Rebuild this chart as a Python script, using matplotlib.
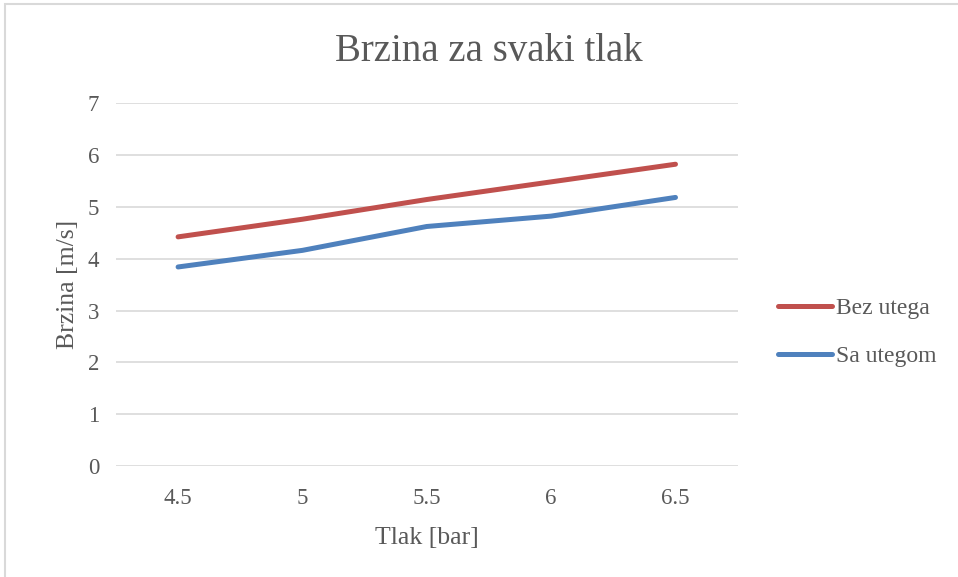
import matplotlib.pyplot as plt
from matplotlib.patches import Rectangle

# pressure categories and measured speeds
tlak = ["4.5", "5", "5.5", "6", "6.5"]
bez_utega = [4.42, 4.76, 5.14, 5.48, 5.82]
sa_utegom = [3.84, 4.16, 4.62, 4.82, 5.18]

text_color = "#595959"
plt.rcParams["font.family"] = ["Liberation Serif", "DejaVu Serif"]

fig = plt.figure(figsize=(9.58, 5.77), dpi=100)
ax = fig.add_axes([0.121, 0.192, 0.649, 0.6295])

x = range(len(tlak))
ax.plot(x, bez_utega, color="#c0504d", lw=3.6, solid_capstyle="round",
        solid_joinstyle="round", label="Bez utega", zorder=3)
ax.plot(x, sa_utegom, color="#4f81bd", lw=3.6, solid_capstyle="round",
        solid_joinstyle="round", label="Sa utegom", zorder=3)

ax.set_xlim(-0.5, len(tlak) - 0.5)
ax.set_ylim(0, 7)
ax.set_xticks(list(x))
ax.set_xticklabels(tlak)
ax.set_yticks(range(0, 8))

ax.grid(axis="y", color="#d9d9d9", lw=1.2)
ax.set_axisbelow(True)
for s in ax.spines.values():
    s.set_visible(False)
ax.tick_params(length=0, labelsize=16.5, labelcolor=text_color)
ax.tick_params(axis="y", pad=12)
ax.tick_params(axis="x", pad=16)

ax.set_xlabel("Tlak [bar]", fontsize=18.5, color=text_color, labelpad=13)
ax.set_ylabel("Brzina [m/s]", fontsize=18.5, color=text_color, labelpad=6)
fig.text(0.51, 0.910, "Brzina za svaki tlak", fontsize=28, color=text_color,
         ha="center", va="center")

fig.legend(loc="center left", bbox_to_anchor=(0.790, 0.424), frameon=False,
           fontsize=17, labelcolor=text_color, handlelength=2.3,
           handletextpad=0.15, labelspacing=1.15)

# thin chart border
fig.patches.append(Rectangle((0.005, -0.01), 1.0, 1.003, transform=fig.transFigure,
                             fill=False, edgecolor="#d9d9d9", lw=1.5))

fig.savefig("out.png", dpi=100)
